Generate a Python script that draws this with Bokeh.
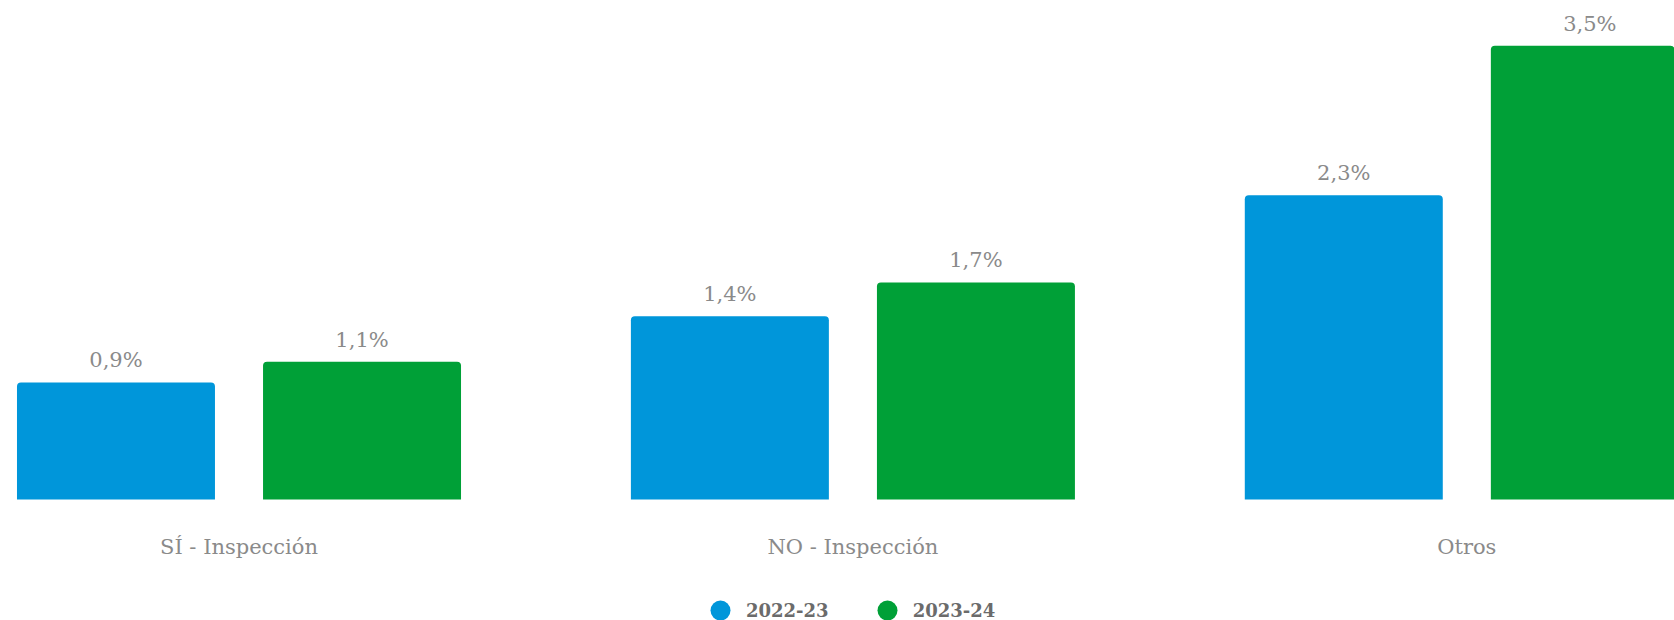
from bokeh.plotting import figure
from bokeh.models import ColumnDataSource, Range1d, Legend, LegendItem
from bokeh.transform import dodge
from bokeh.core.properties import value
from bokeh.embed import file_html
from bokeh.resources import INLINE

# ---- data ----
categories = ["SÍ - Inspección", "NO - Inspección", "Otros"]
series_names = ["2022-23", "2023-24"]
values_2022 = [0.90, 1.41, 2.34]
values_2023 = [1.06, 1.67, 3.49]
colors = ["#0096DA", "#00A037"]

def fmt(v):
    return f"{v:.1f}".replace(".", ",") + "%"

xs = list(range(len(categories)))
src_a = ColumnDataSource(dict(x=xs, y=values_2022, lab=[fmt(v) for v in values_2022]))
src_b = ColumnDataSource(dict(x=xs, y=values_2023, lab=[fmt(v) for v in values_2023]))
src_c = ColumnDataSource(dict(x=xs, y=[0] * len(xs), cat=categories))

W, H = 1674, 620
p = figure(width=W, height=H, output_backend="svg", toolbar_location=None,
           x_range=Range1d(-0.3885, 2.3383), y_range=Range1d(-0.9308, 3.8385),
           x_axis_location=None, y_axis_location=None,
           min_border_left=0, min_border_right=0,
           min_border_top=0, min_border_bottom=0)
p.outline_line_color = None
p.xgrid.visible = False
p.ygrid.visible = False
p.background_fill_color = "white"
p.border_fill_color = "white"

bw = 0.3225
off = 0.2004
p.vbar(x=dodge("x", -off), top="y", width=bw, source=src_a,
       fill_color=colors[0], line_color=None, border_radius=(4, 4, 0, 0))
p.vbar(x=dodge("x", off), top="y", width=bw, source=src_b,
       fill_color=colors[1], line_color=None, border_radius=(4, 4, 0, 0))

for src, o in ((src_a, -off), (src_b, off)):
    p.text(x=dodge("x", o), y="y", text="lab", source=src, y_offset=-22,
           text_align="center", text_baseline="alphabetic",
           text_font=value("DejaVu Serif"), text_font_size="21px",
           text_color="#8a8a8a")

# category labels under the baseline
p.text(x="x", y="y", text="cat", source=src_c, y_offset=48,
       text_align="center", text_baseline="alphabetic",
       text_font=value("DejaVu Serif"), text_font_size="21px",
       text_color="#8a8a8a")

# legend markers (zero-size points; only their legend glyphs show)
la = p.scatter(x=dodge("x", -off), y="y", source=src_a, size=0, marker="circle",
               fill_color=colors[0], line_color=None)
lb = p.scatter(x=dodge("x", off), y="y", source=src_b, size=0, marker="circle",
               fill_color=colors[1], line_color=None)
legend = Legend(items=[LegendItem(label=series_names[0], renderers=[la]),
                       LegendItem(label=series_names[1], renderers=[lb])],
                location=(695, -15), orientation="horizontal",
                glyph_width=50, glyph_height=50, label_standoff=1, spacing=33,
                padding=0, margin=0, border_line_color=None,
                background_fill_alpha=0,
                label_text_font="DejaVu Serif", label_text_font_style="bold",
                label_text_font_size="18px", label_text_color="#6b6b6b")
p.add_layout(legend, "center")

open("out.html", "w").write(file_html(p, INLINE))
